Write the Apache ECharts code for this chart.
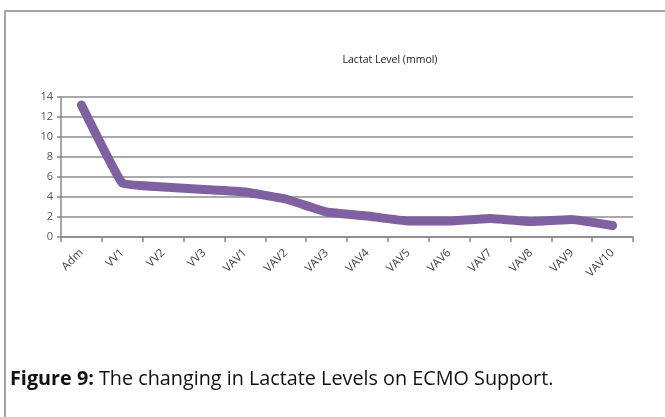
<!DOCTYPE html>
<html>
<head>
<meta charset="utf-8">
<script src="https://cdn.jsdelivr.net/npm/echarts@6/dist/echarts.min.js"></script>
<style>
  html, body { margin: 0; padding: 0; background: #fff; }
  #chart { width: 665px; height: 417px; }
</style>
</head>
<body>
<div id="chart"></div>
<script>
var categories = ['Adm', 'VV1', 'VV2', 'VV3', 'VAV1', 'VAV2', 'VAV3', 'VAV4', 'VAV5', 'VAV6', 'VAV7', 'VAV8', 'VAV9', 'VAV10'];
var lactat = [13.2, 5.4, 5.0, 4.75, 4.5, 3.8, 2.5, 2.1, 1.6, 1.6, 1.85, 1.55, 1.75, 1.15];
var titleText = 'Lactat Level (mmol)';

var chart = echarts.init(document.getElementById('chart'));
chart.setOption({
  animation: false,
  textStyle: { fontFamily: 'Open Sans' },
  title: {
    text: titleText,
    left: 385,
    top: 50,
    textAlign: 'center',
    textStyle: { fontSize: 10.5, fontWeight: 'normal', color: '#222' }
  },
  grid: { left: 61, right: 32, top: 97, bottom: 180 },
  xAxis: {
    type: 'category',
    data: categories,
    boundaryGap: true,
    axisLine: { lineStyle: { color: '#888', width: 1.5 } },
    axisTick: { show: true, length: 5, lineStyle: { color: '#888', width: 1.5 } },
    axisLabel: { rotate: 45, color: '#444', fontSize: 11.5, margin: 14 }
  },
  yAxis: {
    type: 'value',
    min: 0,
    max: 14,
    interval: 2,
    axisLine: { show: true, lineStyle: { color: '#888', width: 1.5 } },
    axisTick: { show: true, length: 4, lineStyle: { color: '#888', width: 1.5 } },
    axisLabel: { color: '#555', fontSize: 11, margin: 8 },
    splitLine: { lineStyle: { color: '#8c8c8c', width: 1.5 } }
  },
  series: [{
    type: 'line',
    data: lactat,
    smooth: 0.08,
    symbol: 'none',
    lineStyle: { color: '#7f60a0', width: 9, cap: 'round', join: 'round' }
  }],
  graphic: [
    {
      type: 'rect',
      shape: { x: 5, y: 11, width: 700, height: 500 },
      style: { fill: null, stroke: '#888', lineWidth: 1.5 },
      silent: true
    },
    {
      type: 'text',
      left: 10,
      top: 369,
      style: {
        text: '{b|Figure 9:} The changing in Lactate Levels on ECMO Support.',
        fontSize: 19.8,
        fontFamily: 'Open Sans',
        fill: '#111',
        rich: { b: { fontWeight: 'bold', fontSize: 19.8, fontFamily: 'Open Sans', fill: '#111' } }
      }
    }
  ]
});
</script>
</body>
</html>
